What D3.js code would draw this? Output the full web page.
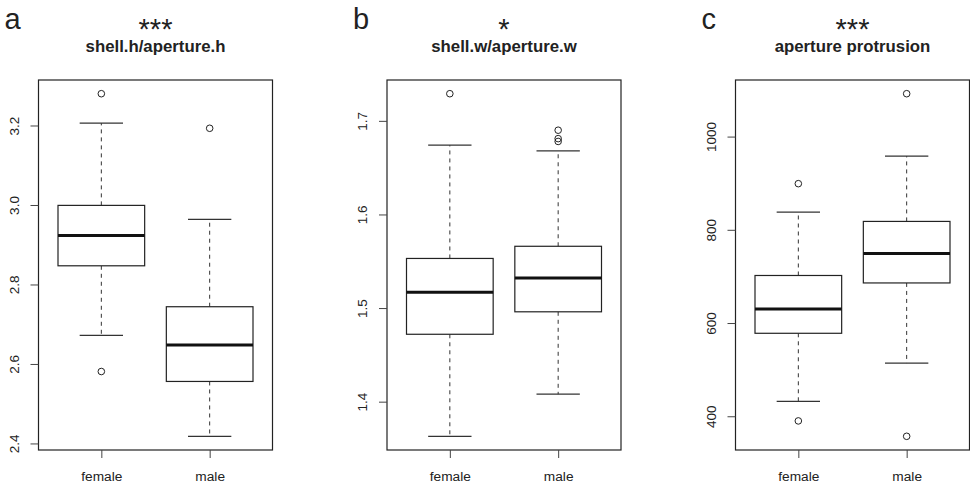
<!DOCTYPE html>
<html>
<head>
<meta charset="utf-8">
<script src="https://cdn.jsdelivr.net/npm/d3@7"></script>
<style>
  body { margin: 0; background: #fff; }
  svg { display: block; }
  text { font-family: "Liberation Sans", Arial, Helvetica, sans-serif; fill: #222; }
</style>
</head>
<body>
<div id="chart"></div>
<script>
(function () {
  "use strict";

  // Groups on the x axis
  var groups = ["female", "male"];

  // Panel labels and titles
  var panelLetters = ["a", "b", "c"];
  var panelStars = ["***", "*", "***"];
  var panelTitles = ["shell.h/aperture.h", "shell.w/aperture.w", "aperture protrusion"];

  // Box stats per group: [lower whisker, Q1, median, Q3, upper whisker]
  var shellHStats = [[2.672, 2.847, 2.923, 2.999, 3.206], [2.418, 2.556, 2.648, 2.744, 2.964]];
  var shellHOutliers = [[3.280, 2.581], [3.193]];
  var shellHTicks = [2.4, 2.6, 2.8, 3.0, 3.2];

  var shellWStats = [[1.363, 1.472, 1.517, 1.553, 1.674], [1.408, 1.496, 1.532, 1.566, 1.668]];
  var shellWOutliers = [[1.729], [1.690, 1.681, 1.678]];
  var shellWTicks = [1.4, 1.5, 1.6, 1.7];

  var protrusionStats = [[432, 578, 630, 702, 838], [514, 686, 749, 818, 958]];
  var protrusionOutliers = [[899, 390], [1092, 357]];
  var protrusionTicks = [400, 600, 800, 1000];

  var panels = [
    { stats: shellHStats, outliers: shellHOutliers, ticks: shellHTicks, fmt: d3.format(".1f") },
    { stats: shellWStats, outliers: shellWOutliers, ticks: shellWTicks, fmt: d3.format(".1f") },
    { stats: protrusionStats, outliers: protrusionOutliers, ticks: protrusionTicks, fmt: d3.format("d") }
  ];

  // Layout
  var W = 970, H = 487;
  var plotLefts = [38.5, 387, 735.5];
  var plotW = 234;
  var plotTop = 80, plotBottom = 450;
  var boxWex = 0.8;

  var svg = d3.select("#chart").append("svg")
    .attr("width", W)
    .attr("height", H);

  panels.forEach(function (p, i) {
    var left = plotLefts[i];
    var g = svg.append("g").attr("transform", "translate(" + left + ",0)");

    // x scale: group index 1..n, R style padding
    var x = d3.scaleLinear().domain([0.42, 2.58]).range([0, plotW]);

    // y scale: data range extended 4% on each side
    var all = [];
    p.stats.forEach(function (s) { all = all.concat(s); });
    p.outliers.forEach(function (o) { all = all.concat(o); });
    var ext = d3.extent(all);
    var pad = (ext[1] - ext[0]) * 0.04;
    var y = d3.scaleLinear().domain([ext[0] - pad, ext[1] + pad]).range([plotBottom, plotTop]);

    // Boxes
    p.stats.forEach(function (s, j) {
      var cx = x(j + 1);
      var bw = x(j + 1 + boxWex / 2) - cx;
      var cw = bw / 2;

      // whiskers
      g.append("line")
        .attr("x1", cx).attr("x2", cx)
        .attr("y1", y(s[3])).attr("y2", y(s[4]))
        .attr("stroke", "#333").attr("stroke-width", 1)
        .attr("stroke-dasharray", "4,4");
      g.append("line")
        .attr("x1", cx).attr("x2", cx)
        .attr("y1", y(s[1])).attr("y2", y(s[0]))
        .attr("stroke", "#333").attr("stroke-width", 1)
        .attr("stroke-dasharray", "4,4");

      // caps
      [s[0], s[4]].forEach(function (v) {
        g.append("line")
          .attr("x1", cx - cw).attr("x2", cx + cw)
          .attr("y1", y(v)).attr("y2", y(v))
          .attr("stroke", "#333").attr("stroke-width", 1.2);
      });

      // box
      g.append("rect")
        .attr("x", cx - bw).attr("width", bw * 2)
        .attr("y", y(s[3])).attr("height", y(s[1]) - y(s[3]))
        .attr("fill", "#fff")
        .attr("stroke", "#222").attr("stroke-width", 1.2);

      // median
      g.append("line")
        .attr("x1", cx - bw).attr("x2", cx + bw)
        .attr("y1", y(s[2])).attr("y2", y(s[2]))
        .attr("stroke", "#111").attr("stroke-width", 3);

      // outliers
      g.selectAll(null)
        .data(p.outliers[j])
        .enter()
        .append("circle")
        .attr("cx", cx)
        .attr("cy", function (d) { return y(d); })
        .attr("r", 3.3)
        .attr("fill", "none")
        .attr("stroke", "#222").attr("stroke-width", 1);
    });

    // Plot frame
    g.append("rect")
      .attr("x", 0).attr("y", plotTop)
      .attr("width", plotW).attr("height", plotBottom - plotTop)
      .attr("fill", "none")
      .attr("stroke", "#222").attr("stroke-width", 1.2);

    // y axis
    var yAxis = g.append("g")
      .call(d3.axisLeft(y).tickValues(p.ticks).tickFormat(p.fmt).tickSize(8).tickSizeOuter(0));
    yAxis.select(".domain").remove();
    yAxis.selectAll(".tick line").attr("stroke", "#444");
    yAxis.selectAll(".tick text")
      .attr("transform", "rotate(-90)")
      .attr("x", 0).attr("y", -20).attr("dy", null)
      .attr("text-anchor", "middle")
      .style("font-family", "Liberation Sans, Arial, sans-serif")
      .style("font-size", "13.5px")
      .attr("fill", "#222");

    // x axis
    var xAxis = g.append("g")
      .attr("transform", "translate(0," + plotBottom + ")")
      .call(d3.axisBottom(x).tickValues([1, 2]).tickFormat(function (d) { return groups[d - 1]; })
        .tickSize(8).tickSizeOuter(0));
    xAxis.select(".domain").remove();
    xAxis.selectAll(".tick line").attr("stroke", "#444");
    xAxis.selectAll(".tick text")
      .attr("y", 31).attr("dy", null)
      .style("font-family", "Liberation Sans, Arial, sans-serif")
      .style("font-size", "13.7px")
      .attr("fill", "#222");

    // Panel letter
    svg.append("text")
      .attr("x", left - 34).attr("y", 29)
      .style("font-size", "29px")
      .text(panelLetters[i]);

    // Significance stars
    svg.append("text")
      .attr("x", left + plotW / 2).attr("y", 39)
      .attr("text-anchor", "middle")
      .style("font-size", "29px")
      .text(panelStars[i]);

    // Title
    svg.append("text")
      .attr("x", left + plotW / 2).attr("y", 52)
      .attr("text-anchor", "middle")
      .style("font-size", "16.8px")
      .style("font-weight", "bold")
      .text(panelTitles[i]);
  });
})();
</script>
</body>
</html>
